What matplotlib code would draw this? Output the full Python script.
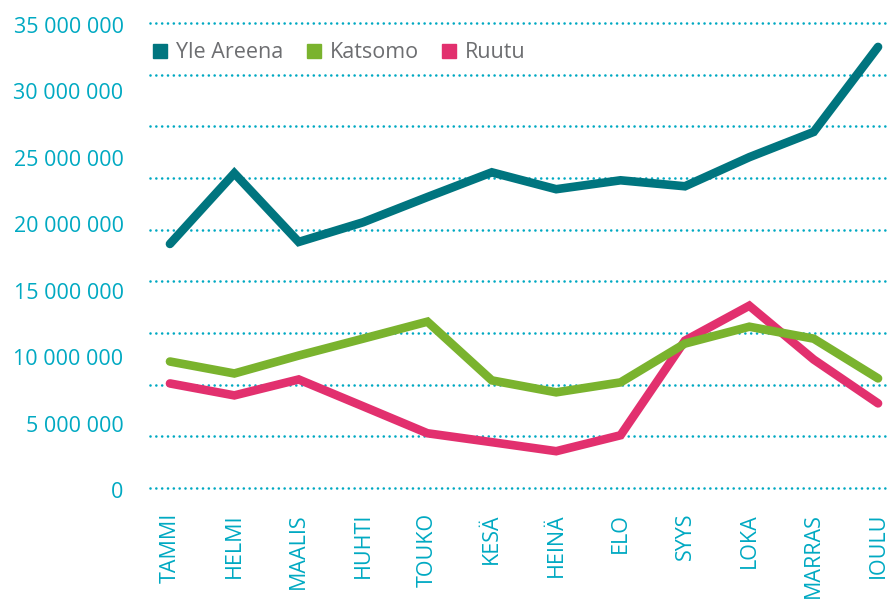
import matplotlib
matplotlib.use("Agg")
import matplotlib.pyplot as plt
import matplotlib.transforms as mtransforms
import numpy as np

months = ["TAMMI", "HELMI", "MAALIS", "HUHTI", "TOUKO", "KESÄ",
          "HEINÄ", "ELO", "SYYS", "LOKA", "MARRAS", "IOULU"]

yle_areena = [18.37, 23.69, 18.52, 20.0, 21.9, 23.76,
              22.49, 23.16, 22.71, 24.9, 26.8, 33.2]
katsomo = [9.52, 8.62, 9.97, 11.24, 12.52, 8.10,
           7.20, 7.95, 10.87, 12.14, 11.24, 8.25]
ruutu = [7.87, 6.97, 8.17, 6.15, 4.12, 3.45,
         2.77, 3.97, 11.09, 13.72, 9.67, 6.37]

series = [("Yle Areena", yle_areena, "#00757f"),
          ("Katsomo", katsomo, "#7ab32e"),
          ("Ruutu", ruutu, "#e2306e")]

label_col = "#00a9c2"
legend_col = "#6d6e71"

plt.rcParams['font.family'] = ['Open Sans', 'DejaVu Sans']

fig = plt.figure(figsize=(8.89, 6.05), dpi=100)
ax = fig.add_axes([150 / 889, 1 - 488 / 605, 739 / 889, 465 / 605])

x = np.arange(len(months))
z = {"Yle Areena": 4, "Katsomo": 3, "Ruutu": 2}
for name, vals, col in series:
    ax.plot(x, np.array(vals) * 1e6, color=col, lw=6.2, label=name,
            solid_capstyle='round', solid_joinstyle='miter', zorder=z[name])

# dotted grid, 9 even intervals (not matching labels)
for g in np.linspace(0, 35e6, 10):
    ax.axhline(g, color=label_col, lw=1.9, ls=(0, (0.01, 2.2)), zorder=1,
               dash_capstyle='round', clip_on=False)

ax.set_xlim(-0.31, 11.17)
ax.set_ylim(0, 35e6)
ax.set_xticks(x)
ax.set_xticklabels(months, rotation=90, va='top', ha='center')
yt = np.arange(0, 35e6 + 1, 5e6)
ax.set_yticks(yt)
ax.set_yticklabels([f"{int(v):,}".replace(",", " ") for v in yt])
ax.tick_params(axis='both', length=0, colors=label_col, labelsize=15.5)
ax.tick_params(axis='y', pad=19)
ax.tick_params(axis='x', pad=18)
# labels sit a touch below their values in the original
shift = mtransforms.ScaledTranslation(0, -2 / 100, fig.dpi_scale_trans)
for lab in ax.get_yticklabels():
    lab.set_transform(lab.get_transform() + shift)
for s in ax.spines.values():
    s.set_visible(False)

handles = [plt.Line2D([], [], marker='s', ls='none', color=c, markersize=10)
           for _, _, c in series]
leg = ax.legend(handles, [n for n, _, _ in series], ncol=3, frameon=False,
                loc='upper left', bbox_to_anchor=(-0.024, 1.0),
                handlelength=0.8, handletextpad=0.35, columnspacing=1.0,
                fontsize=15.5)
for t in leg.get_texts():
    t.set_color(legend_col)

fig.savefig("out.png", dpi=100)
